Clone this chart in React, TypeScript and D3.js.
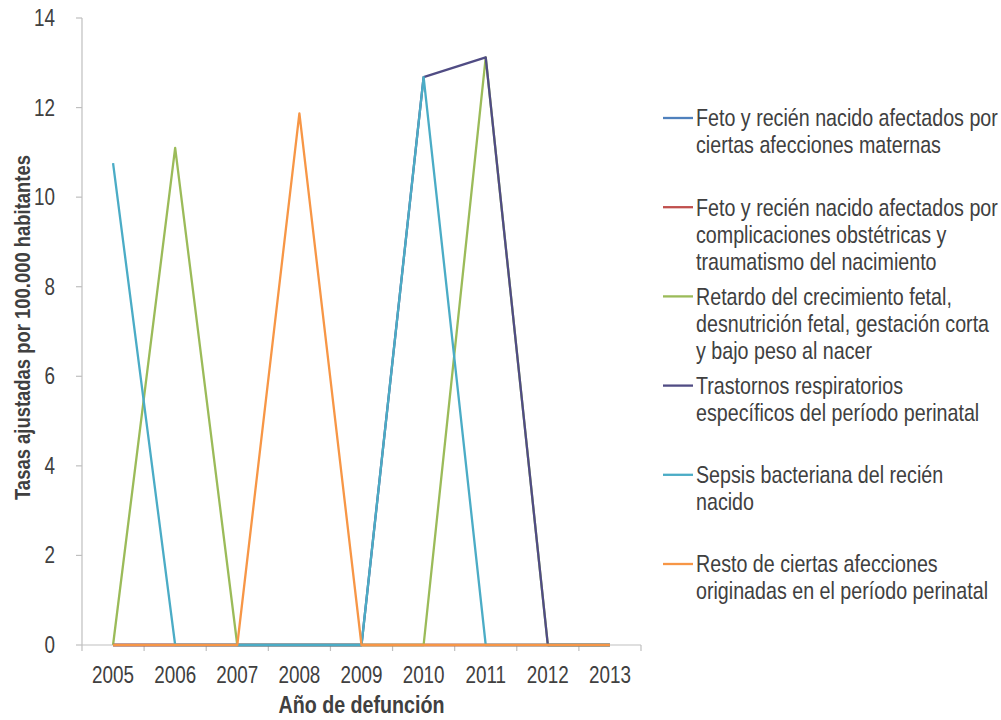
import React, { useEffect, useRef } from 'react';
import * as d3 from 'd3';

// categories
const years = ['2005', '2006', '2007', '2008', '2009', '2010', '2011', '2012', '2013'];
const yTicks = [0, 2, 4, 6, 8, 10, 12, 14];

// series values (tasas ajustadas por 100.000 hab.)
const fetoMaternas = [0, 0, 0, 0, 0, 0, 0, 0, 0];
const fetoComplicaciones = [0, 0, 0, 0, 0, 0, 0, 0, 0];
const retardoCrecimiento = [0, 11.1, 0, 0, 0, 0, 13.12, 0, 0];
const trastornosRespiratorios = [0, 0, 0, 0, 0, 12.68, 13.12, 0, 0];
const sepsisBacteriana = [10.76, 0, 0, 0, 0, 12.68, 0, 0, 0];
const restoAfecciones = [0, 0, 0, 11.87, 0, 0, 0, 0, 0];

// legend labels, already broken into lines
const legendLabels = [
  ['Feto y recién nacido afectados por', 'ciertas afecciones maternas'],
  ['Feto y recién nacido afectados por', 'complicaciones obstétricas y', 'traumatismo del nacimiento'],
  ['Retardo del crecimiento fetal,', 'desnutrición fetal, gestación corta', 'y bajo peso al nacer'],
  ['Trastornos respiratorios', 'específicos del período perinatal'],
  ['Sepsis bacteriana del recién', 'nacido'],
  ['Resto de ciertas afecciones', 'originadas en el período perinatal'],
];

const yTitle = 'Tasas ajustadas por 100.000 habitantes';
const xTitle = 'Año de defunción';

const colors = ['#4F81BD', '#C0504D', '#9BBB59', '#504C84', '#4BACC6', '#F79646'];
const FONT = '"Liberation Sans", Arial, sans-serif';
const SX = 0.82; // the reference uses a narrow face, squeeze Liberation Sans to match
const TEXT = '#404040';
const AXIS = '#BFBFBF';

const App = () => {
  const svgRef = useRef<SVGSVGElement>(null);

  useEffect(() => {
    document.body.style.margin = '0';
    const width = 1001;
    const height = 720;
    const plot = { left: 82, right: 641, top: 18, bottom: 645 };

    const svg = d3.select(svgRef.current).attr('width', width).attr('height', height);
    svg.selectAll('*').remove();
    svg.append('rect').attr('width', width).attr('height', height).attr('fill', '#fff');

    const series = [
      fetoMaternas,
      fetoComplicaciones,
      retardoCrecimiento,
      trastornosRespiratorios,
      sepsisBacteriana,
      restoAfecciones,
    ];

    const x = d3.scaleBand().domain(years).range([plot.left, plot.right]).padding(0);
    const cx = (d: string) => (x(d) as number) + x.bandwidth() / 2;
    const y = d3.scaleLinear().domain([0, 14]).range([plot.bottom, plot.top]);

    // y axis
    const yAxis = svg.append('g');
    yAxis
      .append('line')
      .attr('x1', plot.left).attr('x2', plot.left)
      .attr('y1', y(14)).attr('y2', y(0))
      .attr('stroke', AXIS).attr('stroke-width', 1.2);
    yAxis
      .selectAll('line.tick')
      .data(yTicks)
      .join('line')
      .attr('class', 'tick')
      .attr('x1', plot.left - 6).attr('x2', plot.left)
      .attr('y1', (d) => y(d)).attr('y2', (d) => y(d))
      .attr('stroke', AXIS).attr('stroke-width', 1.2);
    yAxis
      .selectAll('text')
      .data(yTicks)
      .join('text')
      .attr('transform', (d) => `translate(55,${y(d)}) scale(${SX},1)`)
      .attr('dy', '0.35em')
      .attr('text-anchor', 'end')
      .attr('font-family', FONT)
      .attr('font-size', 23)
      .attr('fill', TEXT)
      .text((d) => d);

    // x axis
    const xAxis = svg.append('g');
    xAxis
      .append('line')
      .attr('x1', plot.left).attr('x2', plot.right)
      .attr('y1', plot.bottom).attr('y2', plot.bottom)
      .attr('stroke', AXIS).attr('stroke-width', 1.2);
    const bounds = years.map((d) => x(d) as number).concat([plot.right]);
    xAxis
      .selectAll('line.tick')
      .data(bounds)
      .join('line')
      .attr('class', 'tick')
      .attr('x1', (d) => d).attr('x2', (d) => d)
      .attr('y1', plot.bottom).attr('y2', plot.bottom + 6)
      .attr('stroke', AXIS).attr('stroke-width', 1.2);
    xAxis
      .selectAll('text')
      .data(years)
      .join('text')
      .attr('transform', (d) => `translate(${cx(d)},683) scale(${SX},1)`)
      .attr('text-anchor', 'middle')
      .attr('font-family', FONT)
      .attr('font-size', 23)
      .attr('fill', TEXT)
      .text((d) => d);

    // titles
    svg
      .append('text')
      .attr('transform', `translate(${(plot.left + plot.right) / 2},713) scale(${SX},1)`)
      .attr('text-anchor', 'middle')
      .attr('font-family', FONT)
      .attr('font-weight', 'bold')
      .attr('font-size', 24)
      .attr('fill', TEXT)
      .text(xTitle);
    svg
      .append('text')
      .attr('transform', `translate(30,${(plot.top + plot.bottom) / 2 - 4}) rotate(-90) scale(${SX},1)`)
      .attr('text-anchor', 'middle')
      .attr('font-family', FONT)
      .attr('font-weight', 'bold')
      .attr('font-size', 22.5)
      .attr('fill', TEXT)
      .text(yTitle);

    // lines
    const line = d3
      .line<number>()
      .x((_, i) => cx(years[i]))
      .y((d) => y(d));
    svg
      .append('g')
      .selectAll('path')
      .data(series)
      .join('path')
      .attr('d', (d) => line(d))
      .attr('fill', 'none')
      .attr('stroke', (_, i) => colors[i])
      .attr('stroke-width', 2.3)
      .attr('stroke-linejoin', 'round');

    // legend
    const legend = svg.append('g').attr('transform', 'translate(663,118)');
    const entry = legend
      .selectAll('g')
      .data(legendLabels)
      .join('g')
      .attr('transform', (_, i) => `translate(0,${i * 89.2})`);
    entry
      .append('line')
      .attr('x1', 0).attr('x2', 30)
      .attr('y1', 0).attr('y2', 0)
      .attr('stroke', (_, i) => colors[i])
      .attr('stroke-width', 2.3);
    entry
      .append('text')
      .attr('transform', `translate(33,0) scale(${SX},1)`)
      .attr('font-family', FONT)
      .attr('font-size', 24)
      .attr('fill', TEXT)
      .selectAll('tspan')
      .data((d) => d)
      .join('tspan')
      .attr('x', 0)
      .attr('y', (_, j) => j * 27)
      .attr('dy', '0.35em')
      .text((d) => d);
  }, []);

  return <svg ref={svgRef} style={{ display: 'block' }}></svg>;
};

export default App;
